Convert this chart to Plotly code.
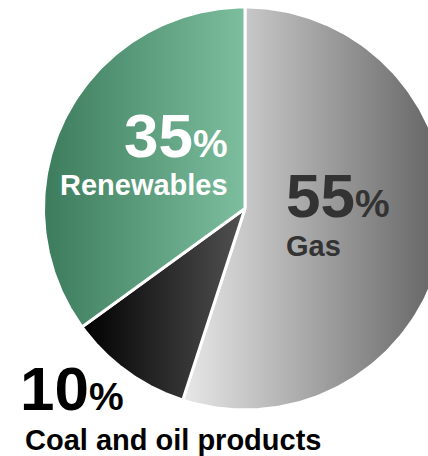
import numpy as np
import plotly.graph_objects as go

# ---- data ----
labels = ["Gas", "Coal and oil products", "Renewables"]
values = [55, 10, 35]
pct_text = ["55", "10", "35"]

# ---- styles ----
grad_colors = [
    ["rgb(232,232,232)", "rgb(96,96,96)"],     # Gas
    ["rgb(0,0,0)", "rgb(82,82,82)"],           # Coal
    ["rgb(60,124,93)", "rgb(124,190,158)"],    # Renewables
]
text_colors = ["#333333", "#000000", "#ffffff"]

W, H = 428, 456
cx, cy, R = 245, 208.5, 201.5

fig = go.Figure()
total = sum(values)
start = 0.0
for lab, v, cols in zip(labels, values, grad_colors):
    a0 = start / total * 2 * np.pi
    a1 = (start + v) / total * 2 * np.pi
    th = np.linspace(a0, a1, 200)
    xs = np.concatenate([[cx], cx + R * np.sin(th), [cx]])
    ys = np.concatenate([[cy], cy - R * np.cos(th), [cy]])
    fig.add_trace(go.Scatter(
        x=xs, y=ys, mode="lines", fill="toself",
        line=dict(color="white", width=3),
        fillgradient=dict(type="horizontal",
                          colorscale=[[0, cols[0]], [1, cols[1]]]),
        name=lab, hoverinfo="name", showlegend=False,
    ))
    start += v

font_family = "Liberation Sans, Arial, sans-serif"
big, small, lab_sz = 62, 39, 29

def big_label(num):
    return f"<b>{num}<span style='font-size:{small}px'>%</span></b>"

# Gas
fig.add_annotation(x=284, y=195, xref="x", yref="y", text=big_label(pct_text[0]),
                   showarrow=False, xanchor="left", yanchor="middle",
                   font=dict(family=font_family, size=big, color=text_colors[0]))
fig.add_annotation(x=284, y=246, xref="x", yref="y", text="<b>" + labels[0] + "</b>",
                   showarrow=False, xanchor="left", yanchor="middle",
                   font=dict(family=font_family, size=lab_sz, color=text_colors[0]))
# Coal
fig.add_annotation(x=18, y=388, xref="x", yref="y", text=big_label(pct_text[1]),
                   showarrow=False, xanchor="left", yanchor="middle",
                   font=dict(family=font_family, size=big, color=text_colors[1]))
fig.add_annotation(x=23, y=440, xref="x", yref="y", text="<b>" + labels[1] + "</b>",
                   showarrow=False, xanchor="left", yanchor="middle",
                   font=dict(family=font_family, size=lab_sz, color=text_colors[1]))
# Renewables
fig.add_annotation(x=230, y=135, xref="x", yref="y", text=big_label(pct_text[2]),
                   showarrow=False, xanchor="right", yanchor="middle",
                   font=dict(family=font_family, size=big, color=text_colors[2]))
fig.add_annotation(x=230, y=185, xref="x", yref="y", text="<b>" + labels[2] + "</b>",
                   showarrow=False, xanchor="right", yanchor="middle",
                   font=dict(family=font_family, size=lab_sz, color=text_colors[2]))

fig.update_layout(
    width=W, height=H,
    margin=dict(l=0, r=0, t=0, b=0),
    paper_bgcolor="white", plot_bgcolor="white",
    xaxis=dict(range=[0, W], visible=False, fixedrange=True),
    yaxis=dict(range=[H, 0], visible=False, fixedrange=True),
    showlegend=False,
)

fig.write_html("out.html",
               config={"displayModeBar": False},
               post_script="document.body.style.margin='0';document.body.style.overflow='hidden';")
